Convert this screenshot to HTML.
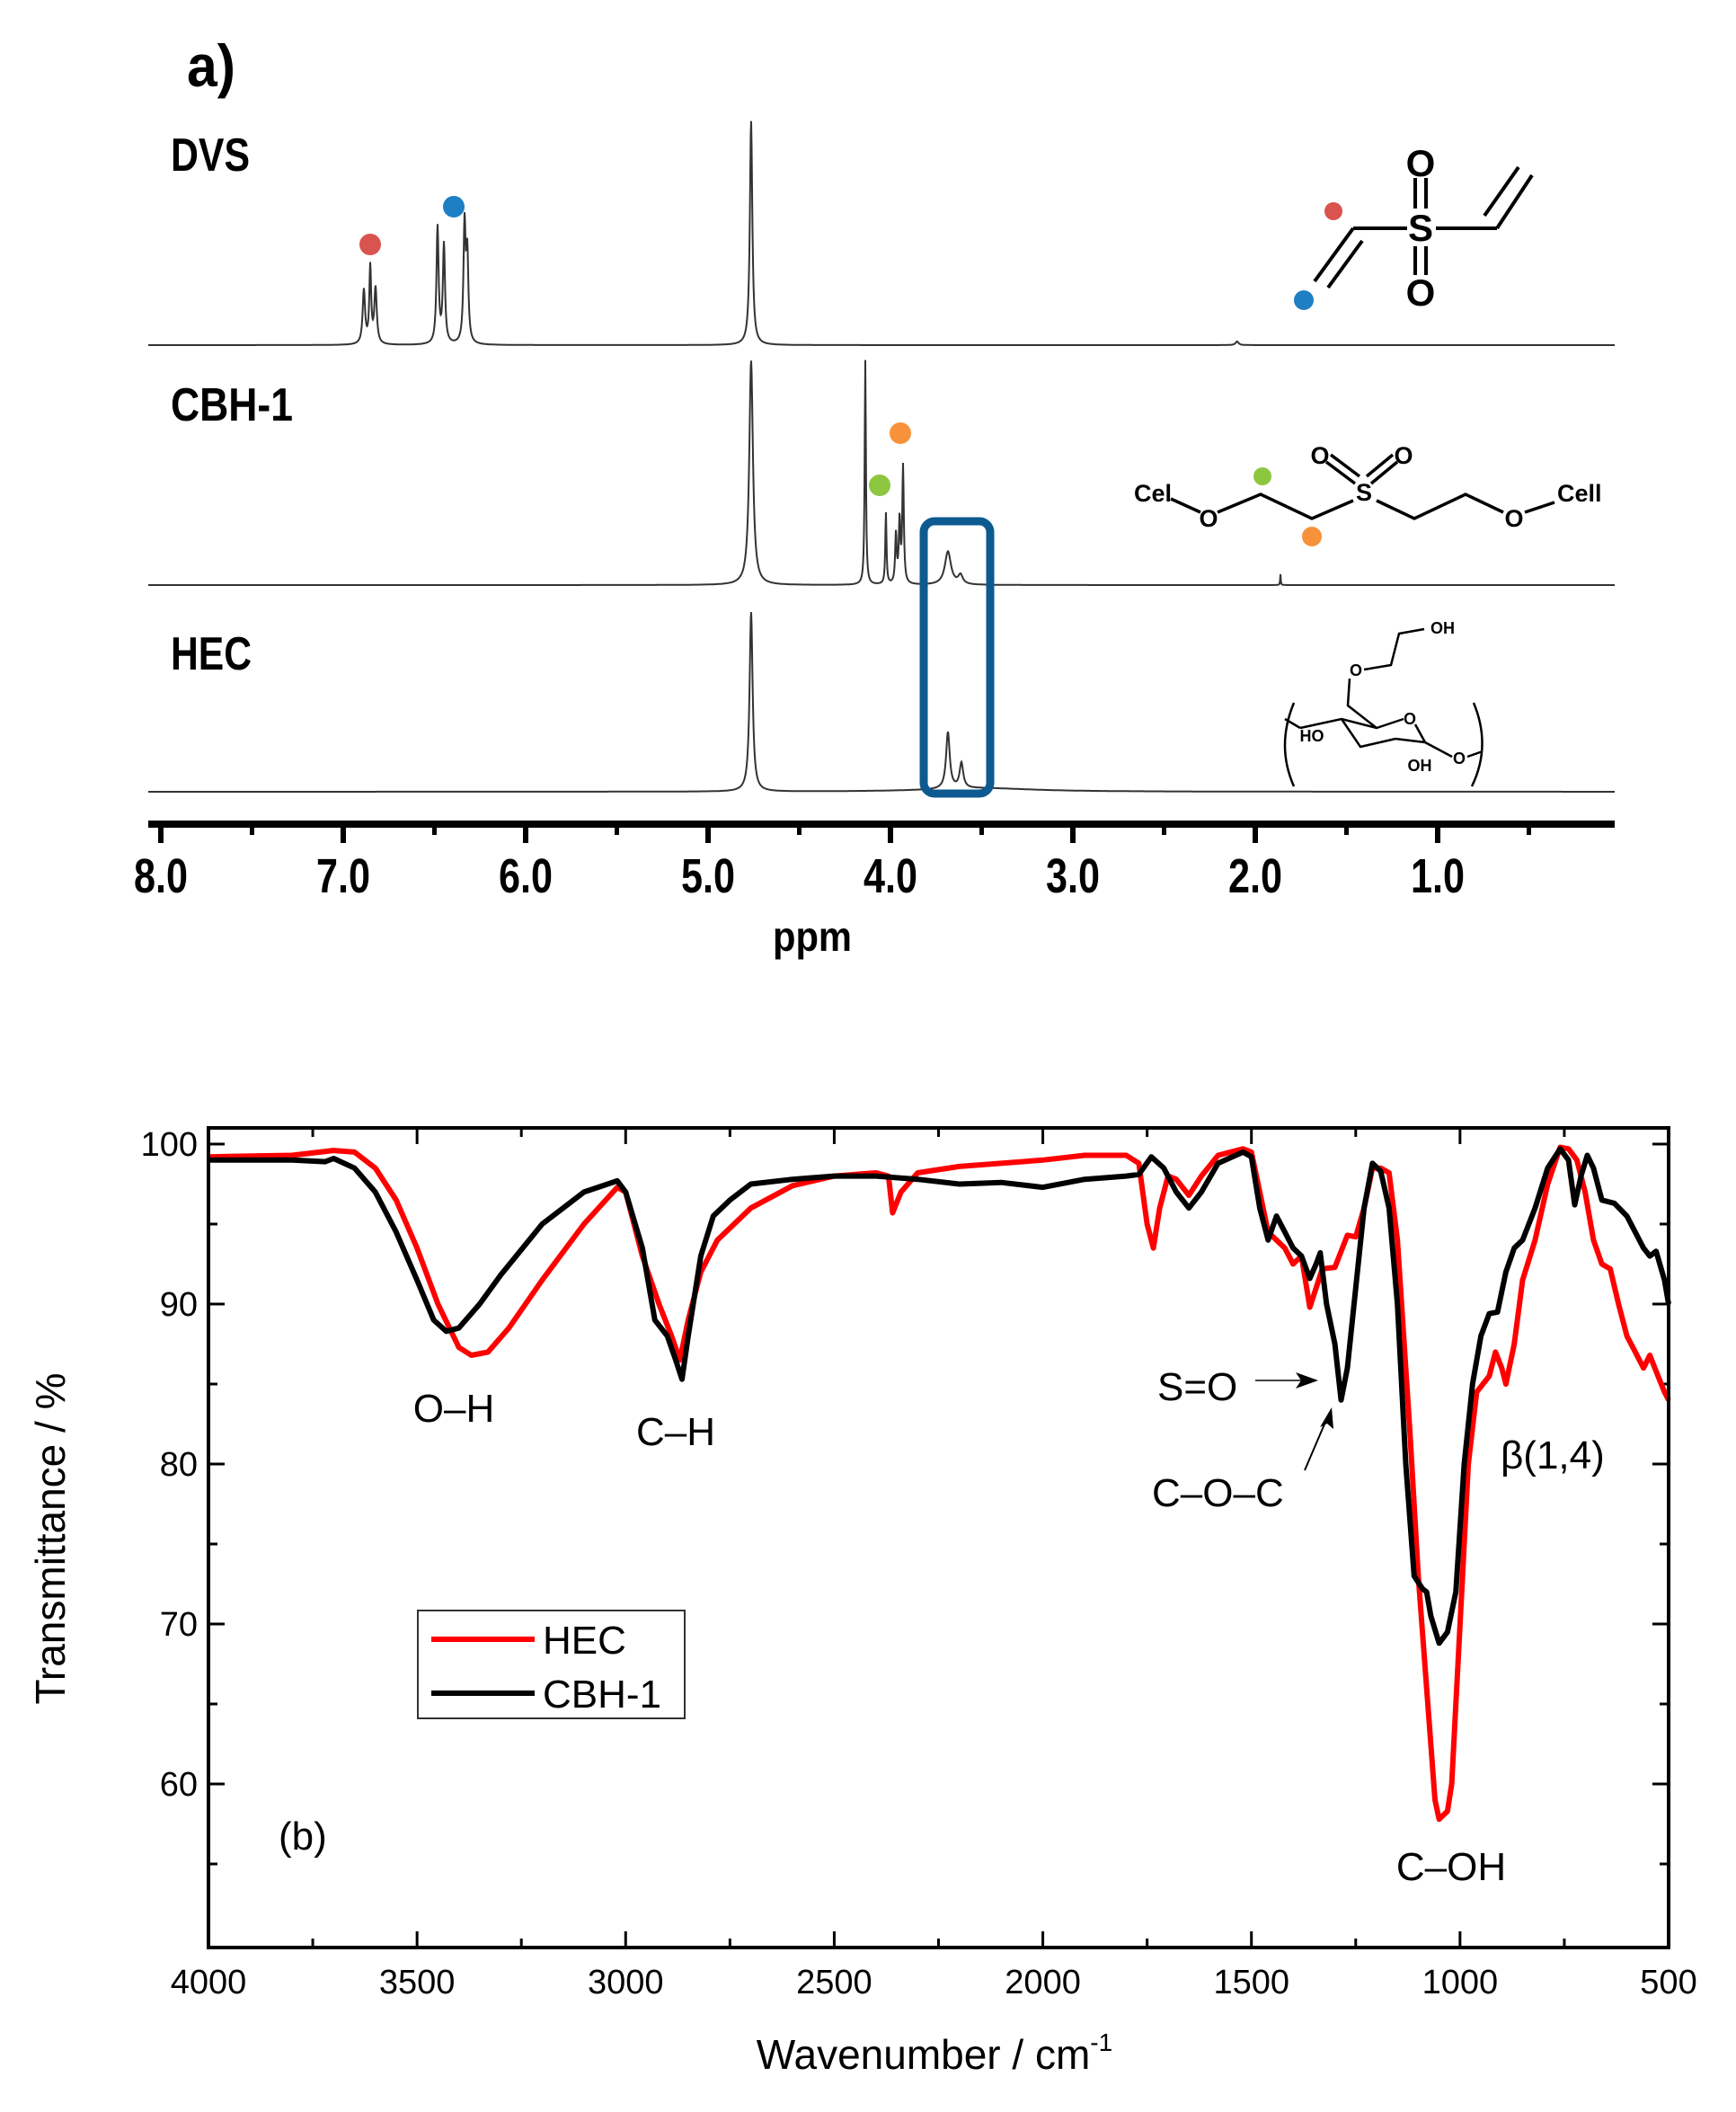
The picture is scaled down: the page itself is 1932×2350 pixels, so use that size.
<!DOCTYPE html>
<html><head><meta charset="utf-8"><style>
html,body{margin:0;padding:0;background:#fff;}
svg{display:block;}
.nb{font-family:"Liberation Sans Narrow","Liberation Sans",sans-serif;font-weight:bold;}
.ir{font-family:"Liberation Sans",sans-serif;}
</style></head><body>
<svg id="fig" width="1932" height="2350" viewBox="0 0 1932 2350" xmlns="http://www.w3.org/2000/svg">
<rect x="0" y="0" width="1932" height="2350" fill="#fff"/>
<g id="nmr">
<text class="nb" x="208" y="96" font-size="66" textLength="54" lengthAdjust="spacingAndGlyphs">a)</text>
<text class="nb" x="190" y="190" font-size="52" textLength="88" lengthAdjust="spacingAndGlyphs">DVS</text>
<text class="nb" x="190" y="468" font-size="52" textLength="136" lengthAdjust="spacingAndGlyphs">CBH-1</text>
<text class="nb" x="190" y="745" font-size="52" textLength="90" lengthAdjust="spacingAndGlyphs">HEC</text>
<g id="nmrTraces"></g>
<g id="nmrAxis"></g>
<text class="nb" x="904" y="1058" font-size="46" text-anchor="middle" textLength="88" lengthAdjust="spacingAndGlyphs">ppm</text>
<rect x="1028" y="580" width="74" height="303" rx="12" fill="none" stroke="#0d5a91" stroke-width="9"/>
<circle cx="412" cy="272" r="12" fill="#d9534f"/>
<circle cx="505" cy="230" r="12" fill="#1f7fc4"/>
<circle cx="979" cy="540" r="12" fill="#8dc63f"/>
<circle cx="1002" cy="482" r="12" fill="#f7923a"/>
<g stroke="#000" stroke-width="4" fill="none">
<line x1="1506" y1="254" x2="1566" y2="254"/><line x1="1598" y1="254" x2="1666" y2="254"/>
<line x1="1506" y1="254" x2="1463" y2="313"/><line x1="1516" y1="268" x2="1478" y2="320"/>
<line x1="1666" y1="254" x2="1705" y2="195"/><line x1="1652" y1="240" x2="1690" y2="186"/>
<line x1="1575" y1="198" x2="1575" y2="232"/><line x1="1587" y1="198" x2="1587" y2="232"/>
<line x1="1575" y1="274" x2="1575" y2="306"/><line x1="1587" y1="274" x2="1587" y2="306"/>
</g>
<text class="ir" x="1581" y="268" font-size="42" font-weight="bold" text-anchor="middle">S</text>
<text class="ir" x="1581" y="196" font-size="42" font-weight="bold" text-anchor="middle">O</text>
<text class="ir" x="1581" y="340" font-size="42" font-weight="bold" text-anchor="middle">O</text>
<circle cx="1484" cy="235" r="10" fill="#d9534f"/>
<circle cx="1451" cy="334" r="11" fill="#1f7fc4"/>
<g stroke="#000" stroke-width="3.5" fill="none">
<polyline points="1303,555 1336,570"/><polyline points="1355,570 1403,550 1460,577 1506,557"/>
<polyline points="1532,557 1574,577 1631,550 1673,570"/><polyline points="1697,570 1730,559"/>
<line x1="1476" y1="514" x2="1508" y2="538"/><line x1="1481" y1="506" x2="1513" y2="530"/>
<line x1="1555" y1="514" x2="1526" y2="538"/><line x1="1550" y1="506" x2="1521" y2="530"/>
</g>
<text class="ir" x="1262" y="558" font-size="27" font-weight="bold">Cel</text>
<text class="ir" x="1345" y="586" font-size="27" font-weight="bold" text-anchor="middle">O</text>
<text class="ir" x="1518" y="557" font-size="27" font-weight="bold" text-anchor="middle">S</text>
<text class="ir" x="1469" y="516" font-size="27" font-weight="bold" text-anchor="middle">O</text>
<text class="ir" x="1562" y="516" font-size="27" font-weight="bold" text-anchor="middle">O</text>
<text class="ir" x="1685" y="586" font-size="27" font-weight="bold" text-anchor="middle">O</text>
<text class="ir" x="1733" y="558" font-size="27" font-weight="bold">Cell</text>
<circle cx="1405" cy="530" r="10" fill="#8dc63f"/>
<circle cx="1460" cy="597" r="11" fill="#f7923a"/>
<g stroke="#000" stroke-width="2.5" fill="none">
<polyline points="1585,700 1557,705 1548,740 1518,745"/>
<polyline points="1502,755 1500,785 1532,810"/>
<polyline points="1447,810 1493,800 1532,810 1562,800"/>
<polyline points="1575,806 1586,826 1553,822 1514,831 1493,800"/>
<polyline points="1586,826 1616,842"/><polyline points="1447,810 1430,800"/>
<polyline points="1633,842 1650,836"/>
<path d="M1440,782 Q1420,830 1440,875"/><path d="M1640,782 Q1660,830 1638,875"/>
</g>
<text class="ir" x="1592" y="705" font-size="18" font-weight="bold">OH</text>
<text class="ir" x="1509" y="752" font-size="18" font-weight="bold" text-anchor="middle">O</text>
<text class="ir" x="1569" y="806" font-size="18" font-weight="bold" text-anchor="middle">O</text>
<text class="ir" x="1460" y="825" font-size="18" font-weight="bold" text-anchor="middle">HO</text>
<text class="ir" x="1580" y="858" font-size="18" font-weight="bold" text-anchor="middle">OH</text>
<text class="ir" x="1624" y="850" font-size="18" font-weight="bold" text-anchor="middle">O</text>
</g>
<g id="ir">
<g id="irPlot"></g>
<text class="ir" x="72" y="1712" font-size="46" text-anchor="middle" transform="rotate(-90 72 1712)">Transmittance / %</text>
<text class="ir" x="1040" y="2302" font-size="46" text-anchor="middle">Wavenumber / cm<tspan font-size="28" dy="-20">-1</tspan></text>
<text class="ir" x="505" y="1582" font-size="44" text-anchor="middle">O–H</text>
<text class="ir" x="752" y="1608" font-size="44" text-anchor="middle">C–H</text>
<text class="ir" x="1288" y="1558" font-size="44">S=O</text>
<line x1="1397" y1="1536" x2="1455" y2="1536" stroke="#444" stroke-width="2"/>
<polygon points="1467,1536 1442,1527 1448,1536 1442,1545" fill="#000"/>
<text class="ir" x="1282" y="1676" font-size="44">C–O–C</text>
<line x1="1452" y1="1636" x2="1476" y2="1580" stroke="#000" stroke-width="2"/>
<polygon points="1482,1566 1469,1588 1477,1584 1484,1590" fill="#000"/>
<text class="ir" x="1670" y="1634" font-size="44">β(1,4)</text>
<text class="ir" x="1615" y="2092" font-size="44" text-anchor="middle">C–OH</text>
<text class="ir" x="310" y="2058" font-size="44">(b)</text>
<g>
<rect x="465" y="1792" width="297" height="120" fill="#fff" stroke="#333" stroke-width="2"/>
<line x1="480" y1="1824" x2="595" y2="1824" stroke="#ff0000" stroke-width="6"/>
<text class="ir" x="604" y="1840" font-size="44">HEC</text>
<line x1="480" y1="1884" x2="595" y2="1884" stroke="#000" stroke-width="6"/>
<text class="ir" x="604" y="1900" font-size="44">CBH-1</text>
</g>
</g>
</svg>
<script>
// ---- NMR data: peak positions (ppm), heights, half-widths ----
const dvsPpm    = [6.887, 6.852, 6.823, 6.483, 6.448, 6.335, 6.32, 4.764, 2.10];
const dvsHeight = [60, 85, 62, 130, 110, 130, 95, 250, 4];
const dvsWidth  = [0.008, 0.006, 0.008, 0.007, 0.007, 0.007, 0.007, 0.008, 0.01];
const cbhPpm    = [4.764, 4.138, 4.025, 3.97, 3.95, 3.931, 3.685, 3.616, 1.862];
const cbhHeight = [250, 250, 80, 55, 70, 130, 37, 10, 12];
const cbhWidth  = [0.012, 0.004, 0.004, 0.005, 0.005, 0.005, 0.02, 0.015, 0.002];
const hecPpm    = [4.764, 3.685, 3.611, 3.50];
const hecHeight = [200, 63, 28, 4];
const hecWidth  = [0.01, 0.012, 0.012, 0.35];
const ppmTicks  = ["8.0","7.0","6.0","5.0","4.0","3.0","2.0","1.0"];

// ---- IR data ----
const hecWn = [4000,3800,3700,3650,3600,3550,3500,3450,3400,3370,3330,3280,3200,3100,3020,3000,2960,2920,2890,2870,2850,2820,2780,2700,2600,2500,2400,2370,2360,2340,2300,2200,2100,2000,1900,1800,1770,1750,1735,1720,1700,1680,1650,1620,1580,1520,1500,1480,1460,1440,1420,1400,1380,1360,1345,1330,1300,1270,1250,1230,1210,1190,1170,1150,1120,1100,1080,1060,1050,1030,1020,1000,980,960,930,915,900,890,870,850,820,790,760,740,720,700,680,660,640,620,600,580,560,545,530,510,500];
const hecT  = [99.2,99.3,99.6,99.5,98.5,96.5,93.5,90,87.3,86.8,87,88.5,91.5,95,97.3,97,93,90,88,86.5,89,92,94,96,97.4,98,98.2,98,95.7,97,98.2,98.6,98.8,99,99.3,99.3,98.8,95,93.5,96,98,97.8,96.8,98,99.3,99.7,99.5,97,94.5,94,93.5,92.5,93,89.8,91,92.2,92.3,94.3,94.2,96,98.5,98.5,98.2,94,82,73,66,59,57.8,58.3,60,70,80,84.5,85.5,87,86,85,87.5,91.5,94,97.5,99.8,99.7,99,97,94,92.5,92.2,90,88,87,86,86.8,85.8,84.5,84];
const cbhWn = [4000,3800,3720,3700,3650,3600,3550,3500,3460,3430,3400,3350,3300,3200,3100,3020,3000,2960,2930,2900,2880,2865,2850,2820,2790,2750,2700,2600,2500,2400,2300,2200,2100,2000,1900,1800,1770,1740,1710,1680,1650,1620,1580,1520,1500,1480,1460,1440,1420,1400,1380,1360,1345,1335,1320,1300,1285,1270,1250,1230,1210,1190,1170,1150,1130,1110,1090,1080,1070,1050,1030,1010,990,970,950,930,910,890,870,850,820,790,760,740,725,710,695,680,660,630,600,560,545,530,510,500];
const cbhT  = [99,99,98.9,99.1,98.5,97,94.5,91.5,89,88.3,88.5,90,91.8,95,97,97.7,97,93.5,89,88,86.5,85.3,88,93,95.5,96.5,97.5,97.8,98,98,97.8,97.5,97.6,97.3,97.8,98,98.1,99.2,98.5,97,96,97,98.8,99.5,99.2,96,94,95.5,94.5,93.5,93,91.6,92.5,93.2,90,87.5,84,86,91,96,98.8,98.3,96,90,80,73,72.2,72,70.5,68.8,69.5,72,80,85,88,89.4,89.5,92,93.5,94,96,98.5,99.7,99,96.2,98,99.3,98.5,96.5,96.3,95.5,93.5,93,93.3,91.5,90];
const xTickLabels = ["4000","3500","3000","2500","2000","1500","1000","500"];
const yTickLabels = ["60","70","80","90","100"];

const NS = "http://www.w3.org/2000/svg";
function mk(tag, attrs, parent){ const e=document.createElementNS(NS,tag); for(const k in attrs) e.setAttribute(k,attrs[k]); parent.appendChild(e); return e; }

const ppmX = p => 179 + (8 - p) * 203;
function trace(ppm, h, w, base, parent, name){
  let d = "";
  for (let x = 165; x <= 1797; x += 0.5){
    const p = 8 - (x - 179) / 203;
    let y = 0;
    for (let i = 0; i < ppm.length; i++){ const dx = (p - ppm[i]) / w[i]; y += h[i] / (1 + dx*dx); }
    d += (d ? "L" : "M") + x.toFixed(1) + "," + (base - y).toFixed(1);
  }
  const el = mk("path", {d:d, fill:"none", stroke:"#333", "stroke-width":"2"}, parent);
  
  
}
const tg = document.getElementById("nmrTraces");
trace(dvsPpm, dvsHeight, dvsWidth, 384, tg, "dvs-spectrum");
trace(cbhPpm, cbhHeight, cbhWidth, 651, tg, "cbh1-spectrum");
trace(hecPpm, hecHeight, hecWidth, 881, tg, "hec-nmr-spectrum");

const ag = document.getElementById("nmrAxis");
const axl = mk("line", {x1:165, y1:917, x2:1797, y2:917, stroke:"#000", "stroke-width":"8"}, ag);


for (let i = 0; i < ppmTicks.length; i++){
  const v = parseFloat(ppmTicks[i]); const x = ppmX(v);
  const t = mk("line", {x1:x, y1:917, x2:x, y2:938, stroke:"#000", "stroke-width":"6"}, ag);
  
  
  const xm = ppmX(v - 0.5);
  const m = mk("line", {x1:xm, y1:917, x2:xm, y2:929, stroke:"#000", "stroke-width":"5"}, ag);
  
  
  const lb = mk("text", {x:x, y:993, "font-size":"54", "text-anchor":"middle", class:"nb", textLength:"60", lengthAdjust:"spacingAndGlyphs"}, ag);
  lb.textContent = ppmTicks[i];
  
  
}

const L=232, R=1857, T=1255, B=2167;
const sx = w => L + (4000 - w) / 3500 * (R - L);
const sy = v => 1273 + (100 - v) * 17.8;
const ig = document.getElementById("irPlot");
function line(x1,y1,x2,y2,sw,name){ const e=mk("line",{x1:x1,y1:y1,x2:x2,y2:y2,stroke:"#000","stroke-width":sw},ig);   return e; }
for (let i = 0; i < xTickLabels.length; i++){
  const w = parseFloat(xTickLabels[i]); const x = sx(w);
  line(x,B,x,B-18,3,"x-major-tick"); line(x,T,x,T+18,3,"x-major-tick-top");
  if (w > 500){ const xm = sx(w-250); line(xm,B,xm,B-10,3,"x-minor-tick"); line(xm,T,xm,T+10,3,"x-minor-tick-top"); }
  const lb = mk("text",{x:x,y:2218,"font-size":"38","text-anchor":"middle",class:"ir"},ig);
  lb.textContent = xTickLabels[i];
  
  
}
for (let i = 0; i < yTickLabels.length; i++){
  const v = parseFloat(yTickLabels[i]); const y = sy(v);
  line(L,y,L+18,y,3,"y-major-tick"); line(R,y,R-18,y,3,"y-major-tick-right");
  const ym = sy(v-5); line(L,ym,L+10,ym,3,"y-minor-tick"); line(R,ym,R-10,ym,3,"y-minor-tick-right");
  const lb = mk("text",{x:L-12,y:y+13,"font-size":"38","text-anchor":"end",class:"ir"},ig);
  lb.textContent = yTickLabels[i];
  
  
}
function series(wn, t, color, name){
  let d = "";
  for (let i = 0; i < wn.length; i++) d += (i ? "L" : "M") + sx(wn[i]).toFixed(1) + "," + sy(t[i]).toFixed(1);
  const e = mk("path",{d:d,fill:"none",stroke:color,"stroke-width":"6","stroke-linejoin":"round"},ig);
  
  
}
series(hecWn, hecT, "#ff0000", "hec-ir-line");
series(cbhWn, cbhT, "#000000", "cbh1-ir-line");
const fr = mk("rect",{x:L,y:T,width:R-L,height:B-T,fill:"none",stroke:"#000","stroke-width":"4"},ig);


</script>
</body></html>
